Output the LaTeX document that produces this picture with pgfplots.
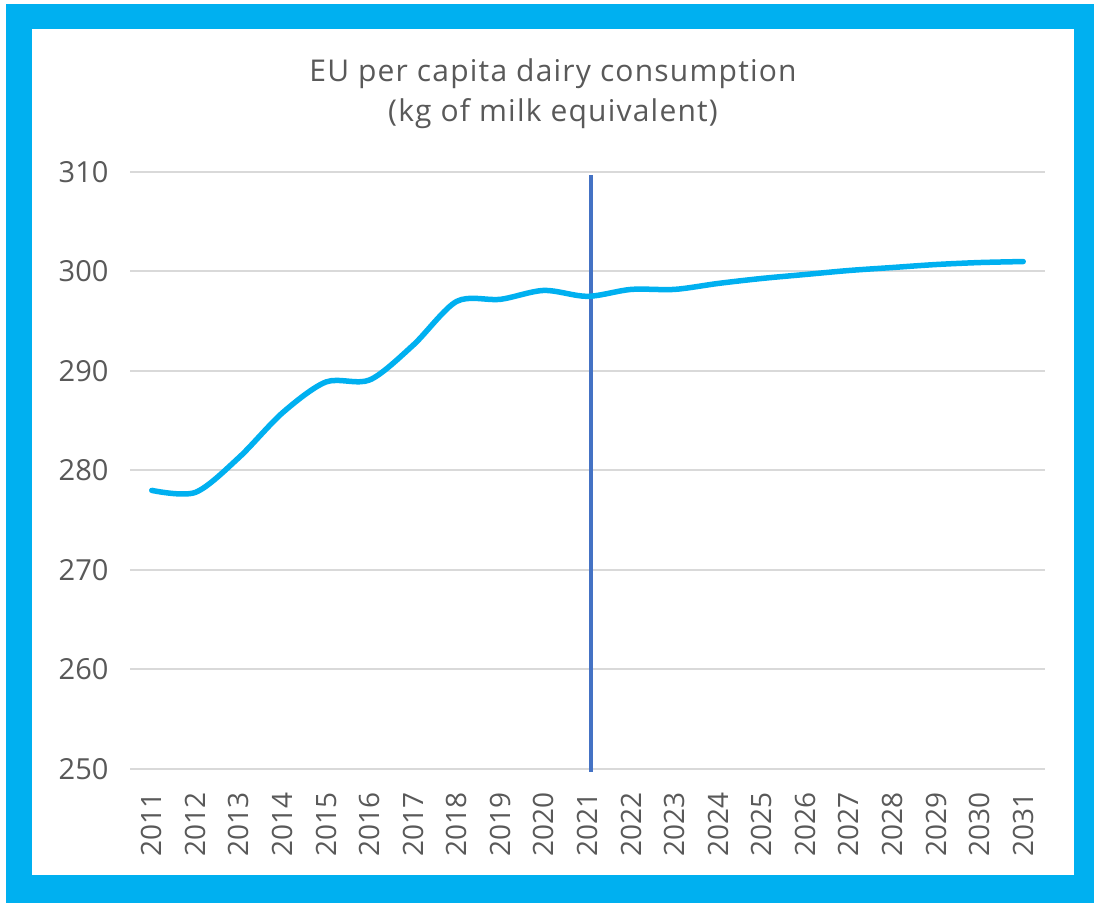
\documentclass[border=0pt]{standalone}
\usepackage{fontspec}
\setmainfont{Open Sans}
\usepackage{pgfplots}
\pgfplotsset{compat=1.18}
\definecolor{frame}{HTML}{00B0F0}
\definecolor{linec}{HTML}{00B0F0}
\definecolor{vline}{HTML}{4472C4}
\definecolor{txt}{HTML}{595959}
\definecolor{grid}{HTML}{D9D9D9}
\begin{document}
\begin{tikzpicture}[x=1bp,y=1bp]
\path[use as bounding box] (0,0) rectangle (1094,903);
\fill[white] (0,0) rectangle (1094,903);
\fill[frame] (6,0) rectangle (1094,899);
\fill[white] (32,28) rectangle (1074,874);
\node[align=center,text=txt,font=\fontsize{30bp}{40bp}\selectfont\addfontfeature{LetterSpace=4}] at (553,809) {EU per capita dairy consumption\\(kg of milk equivalent)};
\begin{axis}[
  at={(130bp,134bp)}, anchor=south west,
  scale only axis, width=915bp, height=597bp,
  xmin=-0.5, xmax=20.5, ymin=250, ymax=310,
  axis line style={draw=none},
  ytick={250,260,...,310},
  xtick={0,...,20},
  xticklabels={2011,2012,2013,2014,2015,2016,2017,2018,2019,2020,2021,2022,2023,2024,2025,2026,2027,2028,2029,2030,2031},
  x tick label style={rotate=90, anchor=east, font=\fontsize{28bp}{30bp}\selectfont, text=txt},
  y tick label style={font=\fontsize{29bp}{30bp}\selectfont, text=txt},
  /pgf/number format/assume math mode=true,
  major tick length=0pt,
  ymajorgrids, grid style={draw=grid, line width=2bp},
  xticklabel shift=20bp, yticklabel shift=18bp,
  clip=false,
]
\addplot[vline, line width=3.5bp] coordinates {(10.08,249.7) (10.08,309.7)};
\addplot[linec, line width=5.5bp, smooth, tension=0.5, line cap=round] coordinates {
(0,278.0) (1,277.8) (2,281.3) (3,285.8) (4,288.9) (5,289.1) (6,292.6) (7,297.0) (8,297.2) (9,298.1) (10,297.5)
(11,298.2) (12,298.2) (13,298.8) (14,299.3) (15,299.7) (16,300.1) (17,300.4) (18,300.7) (19,300.9) (20,301.0)};
\end{axis}
\end{tikzpicture}
\end{document}
